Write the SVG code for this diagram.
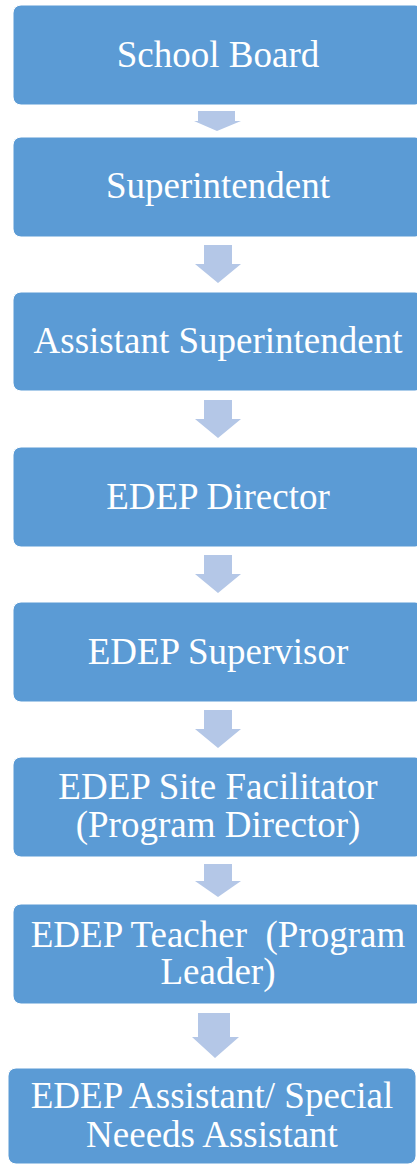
<svg xmlns="http://www.w3.org/2000/svg" width="417" height="1165" viewBox="0 0 417 1165">
<style>
.box{fill:#5B9BD5;stroke:#FFFFFF;stroke-width:1}
.lbl{font-size:37px;fill:#FFFFFF;text-anchor:middle}
.arr{fill:#B4C7E7}
</style>
<rect width="417" height="1165" fill="#FFFFFF"/>
<g id="connectors">
<polygon class="arr" points="198,111 235,111 235,121 241,121 217,131 194,121 198,121"/>
<polygon class="arr" points="204,245 232,245 232,264 241,264 218,283 195,264 204,264"/>
<polygon class="arr" points="204,400 232,400 232,419 241,419 218,438 195,419 204,419"/>
<polygon class="arr" points="204,555 232,555 232,574 241,574 218,593 195,574 204,574"/>
<polygon class="arr" points="204,710 232,710 232,729 241,729 218,748 195,729 204,729"/>
<polygon class="arr" points="204,864 232,864 232,881 241,881 218,897 195,881 204,881"/>
<polygon class="arr" points="198,1013 230,1013 230,1037 239,1037 215,1058 192,1037 198,1037"/>
</g>
<g font-family="Liberation Serif, Times New Roman, Times, DejaVu Serif, serif">
<g id="n1"><rect class="box" x="13" y="5" width="410" height="100" rx="8"/><text class="lbl" x="218" y="67">School Board</text></g>
<g id="n2"><rect class="box" x="13" y="137" width="410" height="100" rx="8"/><text class="lbl" x="218" y="198">Superintendent</text></g>
<g id="n3"><rect class="box" x="13" y="292" width="410" height="99" rx="8"/><text class="lbl" x="218" y="353">Assistant Superintendent</text></g>
<g id="n4"><rect class="box" x="13" y="447" width="410" height="100" rx="8"/><text class="lbl" x="218" y="509">EDEP Director</text></g>
<g id="n5"><rect class="box" x="13" y="602" width="410" height="100" rx="8"/><text class="lbl" x="218" y="664">EDEP Supervisor</text></g>
<g id="n6"><rect class="box" x="13" y="757" width="410" height="100" rx="8"/><text class="lbl" x="218" y="799">EDEP Site Facilitator</text><text class="lbl" x="218" y="837">(Program Director)</text></g>
<g id="n7"><rect class="box" x="13" y="904" width="410" height="100" rx="8"/><text class="lbl" x="218" y="947" xml:space="preserve">EDEP Teacher  (Program</text><text class="lbl" x="218" y="984">Leader)</text></g>
<g id="n8"><rect class="box" x="8" y="1068" width="408" height="96" rx="8"/><text class="lbl" x="212" y="1108">EDEP Assistant/ Special</text><text class="lbl" x="212" y="1147">Neeeds Assistant</text></g>
</g>
</svg>
